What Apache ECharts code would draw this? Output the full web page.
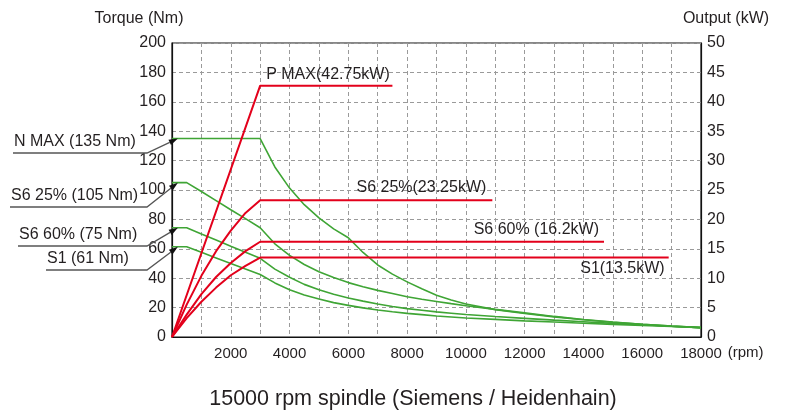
<!DOCTYPE html>
<html>
<head>
<meta charset="utf-8">
<script src="https://cdn.jsdelivr.net/npm/echarts@6/dist/echarts.min.js"></script>
<style>
  html, body { margin: 0; padding: 0; background: #fff; }
  #chart { width: 787px; height: 410px; }
</style>
</head>
<body>
<div id="chart"></div>
<script>
// speed points for the torque curves (rpm)
var rpm = [0, 500, 1000, 1500, 2000, 2500, 3000, 3500, 4000, 4500, 5000, 5500, 6000, 6500, 7000,
  7500, 8000, 8500, 9000, 9500, 10000, 11000, 12000, 13000, 14000, 15000, 16000, 17000, 18000];

// torque (Nm)
var nmaxNm = [135, 135, 135, 135, 135, 135, 135, 115.7, 101.3, 90, 81, 73.6, 67.5, 57.5, 49,
  42.8, 37.5, 32.8, 28.4, 25.2, 22.5, 18.6, 16.0, 13.7, 11.7, 10.0, 8.6, 7.4, 6.4];
var s625Nm = [105, 105, 99, 92.8, 86.6, 80.5, 74.3, 63.4, 55.5, 49.3, 44.4, 40.4, 37, 34.2, 31.7,
  29.6, 27.4, 25.7, 24.2, 22.7, 21.3, 18.8, 16.4, 14.0, 11.9, 10.1, 8.6, 7.4, 6.4];
var s660Nm = [74.3, 74.3, 70.1, 66, 61.8, 57.7, 53.5, 46.2, 40.6, 35.8, 32.2, 29.1, 26.5, 24.4, 22.4,
  20.8, 19.3, 18.2, 17.1, 16.2, 15.3, 13.9, 12.7, 11.5, 10.4, 9.3, 8.3, 7.3, 6.4];
var s1Nm = [61.4, 61.4, 57.6, 53.8, 50, 46.2, 42.5, 36.8, 32.2, 28.6, 25.8, 23.4, 21.5, 19.8, 18.4,
  17.2, 16.1, 15.2, 14.3, 13.6, 12.9, 12.0, 11.0, 10.2, 9.4, 8.6, 7.9, 7.1, 6.4];

// output power (kW)
var pmaxRpm = [0, 3000, 7500];
var pmaxKw = [0, 42.75, 42.75];
var s625Rpm = [0, 500, 1000, 1500, 2000, 2500, 3000, 10900];
var s625Kw = [0, 5.5, 10.4, 14.6, 18.1, 21.1, 23.25, 23.25];
var s660Rpm = [0, 500, 1000, 1500, 2000, 2500, 3000, 14700];
var s660Kw = [0, 3.8, 7.3, 10.2, 12.6, 14.6, 16.2, 16.2];
var s1Rpm = [0, 500, 1000, 1500, 2000, 2500, 3000, 16900];
var s1Kw = [0, 3.2, 6.0, 8.4, 10.5, 12.1, 13.5, 13.5];

var torqueNotes = ['N MAX (135 Nm)', 'S6 25% (105 Nm)', 'S6 60% (75 Nm)', 'S1 (61 Nm)'];
var powerNotes = ['P MAX(42.75kW)', 'S6 25%(23.25kW)', 'S6 60% (16.2kW)', 'S1(13.5kW)'];

var FONT = '"Liberation Sans", Arial, Helvetica, sans-serif';
var TXT = '#231f20';
var GREEN = '#3fa535';
var RED = '#e3001b';

function pairs(xs, ys) {
  return xs.map(function (x, i) { return [x, ys[i]]; });
}

function torqueLine(vals) {
  return {
    type: 'line', yAxisIndex: 0, data: pairs(rpm, vals),
    showSymbol: false, silent: true, animation: false,
    lineStyle: { color: GREEN, width: 1.6 }, z: 3
  };
}
function powerLine(xs, vals) {
  return {
    type: 'line', yAxisIndex: 1, data: pairs(xs, vals),
    showSymbol: false, silent: true, animation: false,
    lineStyle: { color: RED, width: 2 }, z: 4
  };
}

var chart = echarts.init(document.getElementById('chart'));
var dash = { color: '#9a9a9a', type: [4, 3], width: 1 };

chart.setOption({
  backgroundColor: '#fff',
  textStyle: { fontFamily: FONT },
  grid: { left: 172, right: 86, top: 43, bottom: 73, show: true, borderColor: '#111', borderWidth: 1.2 },
  xAxis: {
    type: 'value', min: 0, max: 18000, interval: 1000,
    name: '(rpm)', nameLocation: 'end', nameGap: 24,
    nameTextStyle: { color: TXT, fontSize: 15, verticalAlign: 'top', align: 'left', padding: [8, 0, 0, 0] },
    axisLine: { lineStyle: { color: '#111', width: 1.2 } },
    axisTick: { show: false },
    axisLabel: {
      color: TXT, fontSize: 15, margin: 9,
      formatter: function (v) { return (v !== 0 && v % 2000 === 0) ? String(v) : ''; }
    },
    splitLine: { show: true, lineStyle: dash }
  },
  yAxis: [
    {
      type: 'value', min: 0, max: 200, interval: 20, position: 'left',
      axisLine: { show: true, lineStyle: { color: '#111', width: 1.2 } },
      axisTick: { show: false },
      axisLabel: { color: TXT, fontSize: 16, margin: 6 },
      splitLine: { show: true, lineStyle: dash }
    },
    {
      type: 'value', min: 0, max: 50, interval: 5, position: 'right',
      axisLine: { show: true, lineStyle: { color: '#111', width: 1.2 } },
      axisTick: { show: false },
      axisLabel: { color: TXT, fontSize: 16, margin: 6 },
      splitLine: { show: false }
    }
  ],
  series: [
    torqueLine(nmaxNm), torqueLine(s625Nm), torqueLine(s660Nm), torqueLine(s1Nm),
    powerLine(pmaxRpm, pmaxKw), powerLine(s625Rpm, s625Kw),
    powerLine(s660Rpm, s660Kw), powerLine(s1Rpm, s1Kw)
  ]
});

function px(x, y, axis) {
  return chart.convertToPixel({ xAxisIndex: 0, yAxisIndex: axis }, [x, y]);
}

function txt(str, x, y, align, vAlign, size) {
  return {
    type: 'text', silent: true, z: 10,
    style: {
      text: str, x: x, y: y, align: align, verticalAlign: vAlign,
      fill: TXT, font: size + 'px ' + FONT
    }
  };
}

var els = [];
els.push(txt('Torque (Nm)', 139, 19, 'center', 'middle', 16));
els.push(txt('Output (kW)', 726, 19, 'center', 'middle', 16));
els.push(txt('15000 rpm spindle (Siemens / Heidenhain)', 413, 399, 'center', 'middle', 21.5));

// leader lines on the left, pointing at the start of each torque curve
var startLevels = [nmaxNm[0], s625Nm[0], s660Nm[0], s1Nm[0]];
var underY = [153, 207, 246, 270];
var underX = [13, 10, 18, 46];
torqueNotes.forEach(function (label, i) {
  var tip = px(200, startLevels[i], 0);
  var bx = 147, by = underY[i];
  var ang = Math.atan2(tip[1] - by, tip[0] - bx);
  var len = 9, half = 3;
  var baseX = tip[0] - len * Math.cos(ang), baseY = tip[1] - len * Math.sin(ang);
  els.push({
    type: 'polyline', silent: true, z: 9,
    shape: { points: [[underX[i], by], [bx, by], [baseX, baseY]] },
    style: { stroke: '#555', lineWidth: 1.3, fill: null }
  });
  els.push({
    type: 'polygon', silent: true, z: 9,
    shape: {
      points: [
        [tip[0], tip[1]],
        [baseX + half * Math.sin(ang), baseY - half * Math.cos(ang)],
        [baseX - half * Math.sin(ang), baseY + half * Math.cos(ang)]
      ]
    },
    style: { fill: '#111' }
  });
  els.push(txt(label, underX[i] + 1, by - 3, 'left', 'bottom', 16));
});

// power labels next to the red lines
var pm = px(pmaxRpm[1], pmaxKw[1], 1);
els.push(txt(powerNotes[0], pm[0] + 6, pm[1] - 3, 'left', 'bottom', 16));
var e25 = px(s625Rpm[s625Rpm.length - 1], s625Kw[s625Kw.length - 1], 1);
els.push(txt(powerNotes[1], e25[0] - 6, e25[1] - 5, 'right', 'bottom', 16));
var e60 = px(s660Rpm[s660Rpm.length - 1], s660Kw[s660Kw.length - 1], 1);
els.push(txt(powerNotes[2], e60[0] - 5, e60[1] - 4, 'right', 'bottom', 16));
var e1 = px(s1Rpm[s1Rpm.length - 1], s1Kw[s1Kw.length - 1], 1);
els.push(txt(powerNotes[3], e1[0] - 4, e1[1] + 3, 'right', 'top', 16));

chart.setOption({ graphic: { elements: els } });
</script>
</body>
</html>
